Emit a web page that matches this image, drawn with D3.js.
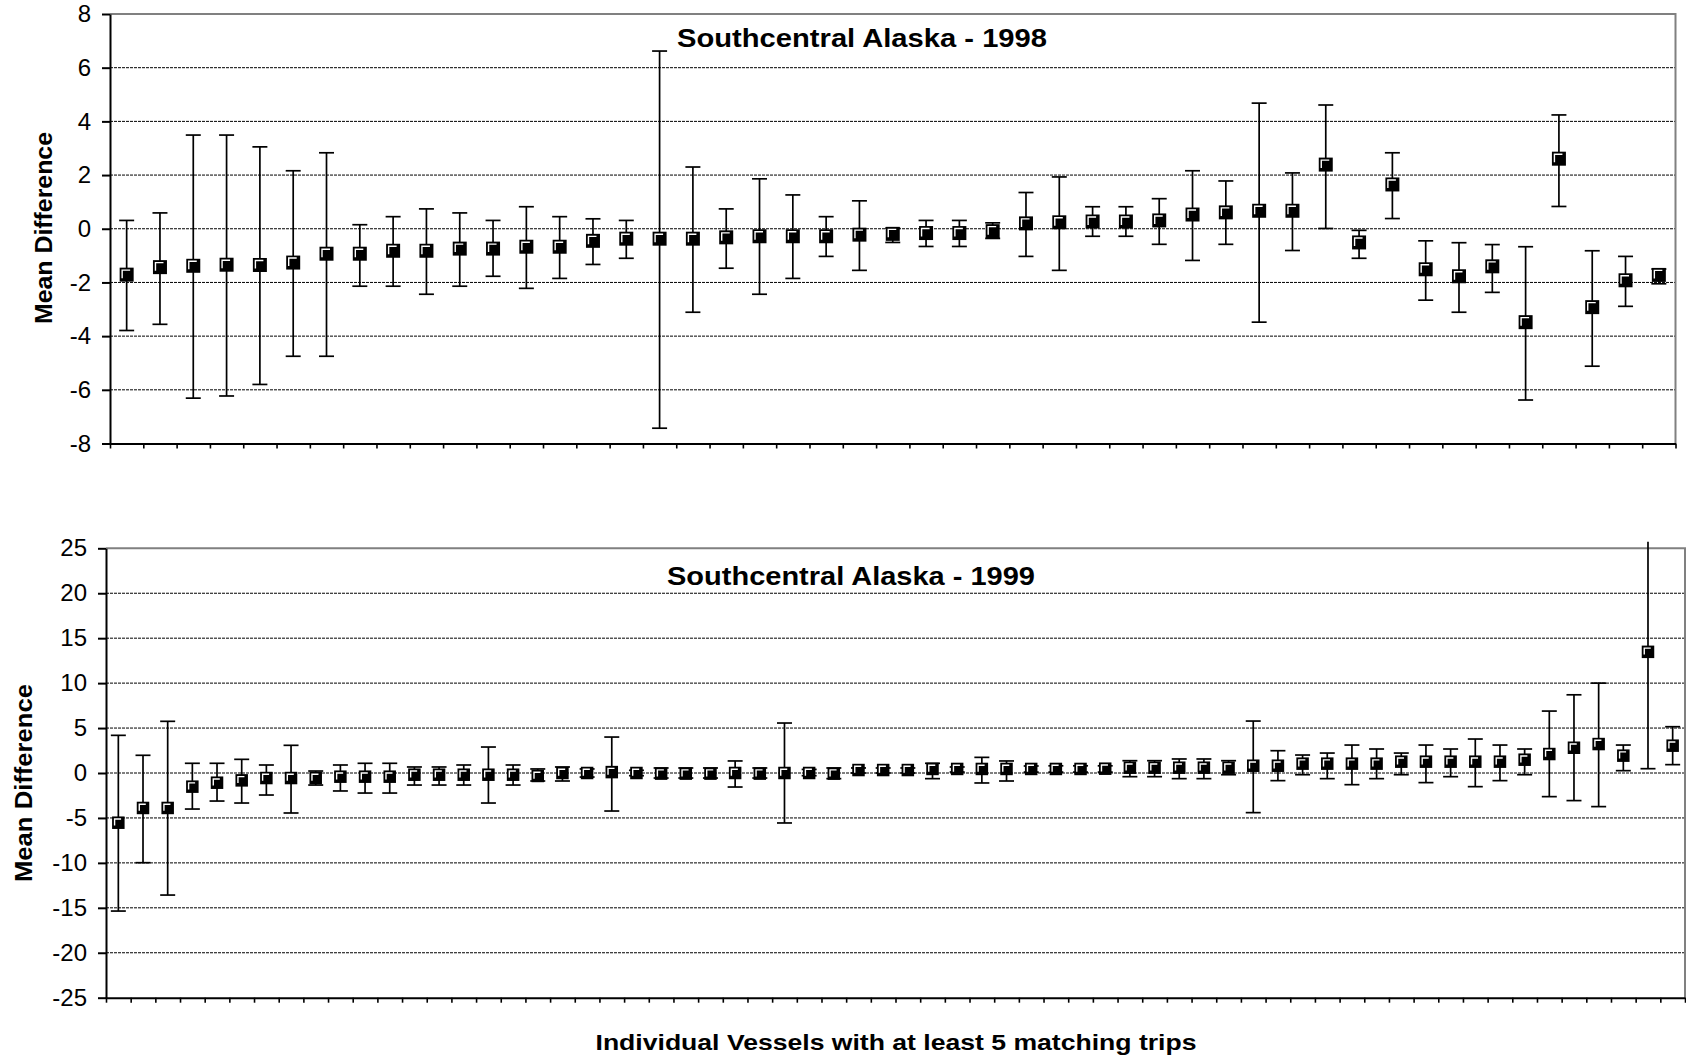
<!DOCTYPE html>
<html>
<head>
<meta charset="utf-8">
<script src="https://cdn.jsdelivr.net/npm/d3@7"></script>
<style>
  body { margin: 0; background: #fff; }
  text { font-family: "Liberation Sans", Arial, sans-serif; fill: #000; }
</style>
</head>
<body>
<svg id="chart" width="1686" height="1058"></svg>
<script>
// ---- 1998: vessels with at least 5 matching trips ----
const vessels98 = [1,2,3,4,5,6,7,8,9,10,11,12,13,14,15,16,17,18,19,20,21,22,23,24,25,26,27,28,29,30,
  31,32,33,34,35,36,37,38,39,40,41,42,43,44,45,46,47];
const mean98 = [-1.71,-1.43,-1.38,-1.34,-1.35,-1.26,-0.93,-0.93,-0.82,-0.82,-0.74,-0.74,-0.67,-0.67,-0.45,
  -0.37,-0.37,-0.37,-0.32,-0.28,-0.28,-0.28,-0.22,-0.19,-0.16,-0.16,-0.09,0.20,0.24,0.27,
  0.27,0.31,0.53,0.61,0.67,0.67,2.39,-0.51,1.65,-1.51,-1.77,-1.40,-3.48,2.61,-2.92,-1.92,-1.72];
const upper98 = [0.31,0.59,3.49,3.49,3.05,2.16,2.83,0.15,0.45,0.74,0.59,0.31,0.82,0.45,0.37,
  0.31,6.62,2.30,0.74,1.86,1.26,0.45,1.04,0.02,0.31,0.31,0.22,1.35,1.93,0.82,
  0.82,1.12,2.16,1.78,4.68,2.08,4.61,-0.06,2.83,-0.45,-0.52,-0.59,-0.67,4.24,-0.82,-1.03,-1.50];
const lower98 = [-3.79,-3.56,-6.31,-6.23,-5.80,-4.75,-4.75,-2.14,-2.14,-2.44,-2.14,-1.77,-2.22,-1.85,-1.33,
  -1.10,-7.43,-3.11,-1.47,-2.44,-1.85,-1.03,-1.55,-0.51,-0.66,-0.66,-0.36,-1.03,-1.55,-0.28,
  -0.28,-0.58,-1.18,-0.58,-3.48,-0.81,0.01,-1.10,0.38,-2.66,-3.11,-2.37,-6.38,0.83,-5.12,-2.89,-2.05];
const yTicks98 = [-8,-6,-4,-2,0,2,4,6,8];

// ---- 1999 ----
const vessels99 = [1,2,3,4,5,6,7,8,9,10,11,12,13,14,15,16,17,18,19,20,21,22,23,24,25,26,27,28,29,30,
  31,32,33,34,35,36,37,38,39,40,41,42,43,44,45,46,47,48,49,50,51,52,53,54,55,56,57,58,59,60,
  61,62,63,64];
const mean99 = [-5.53,-3.89,-3.89,-1.52,-1.08,-0.82,-0.56,-0.56,-0.56,-0.41,-0.41,-0.41,-0.19,-0.19,-0.19,
  -0.19,-0.19,-0.33,0.00,0.00,0.10,0.00,-0.07,-0.07,-0.07,0.00,-0.07,0.00,0.00,-0.07,
  0.33,0.33,0.33,0.45,0.45,0.45,0.45,0.45,0.45,0.45,0.48,0.59,0.59,0.59,0.59,
  0.59,0.81,0.81,1.04,1.04,1.04,1.04,1.26,1.26,1.26,1.26,1.26,1.48,2.11,2.81,
  3.22,1.93,13.48,3.04];
const upper99 = [4.19,1.97,5.75,1.08,1.08,1.52,0.89,3.08,0.22,0.89,1.08,1.08,0.67,0.67,0.89,
  2.89,0.89,0.45,0.67,0.45,4.00,0.30,0.56,0.56,0.56,1.34,0.56,5.56,0.40,0.56,
  0.56,0.56,0.56,1.08,0.67,1.74,1.34,0.78,0.80,0.80,0.80,1.37,1.37,1.56,1.56,
  1.37,5.78,2.48,2.00,2.22,3.11,2.67,2.22,3.11,2.67,3.78,3.11,2.67,6.89,8.70,
  10.00,3.11,25.73,5.15];
const lower99 = [-15.36,-9.98,-13.58,-4.01,-3.12,-3.34,-2.45,-4.45,-1.34,-2.00,-2.23,-2.23,-1.34,-1.34,-1.34,
  -3.34,-1.34,-0.89,-0.89,-0.45,-4.23,-0.30,-0.56,-0.56,-0.56,-1.56,-0.56,-5.56,-0.30,-0.63,
  0.00,0.00,0.00,-0.63,0.11,-1.11,-0.89,0.10,0.10,0.10,0.10,-0.41,-0.41,-0.63,-0.63,
  -0.19,-4.41,-0.85,-0.19,-0.63,-1.30,-0.63,-0.19,-1.07,-0.41,-1.52,-0.85,-0.19,-2.63,-3.07,
  -3.74,0.26,0.48,0.93];
const yTicks99 = [-25,-20,-15,-10,-5,0,5,10,15,20,25];

const svg = d3.select("#chart");
svg.append("rect").attr("width", 1686).attr("height", 1058).attr("fill", "#fff");

function drawPanel(p) {
  const g = svg.append("g");
  const x = d3.scaleBand().domain(p.ids).range([p.left, p.right]);
  const xEdge = d3.scaleLinear().domain([0, p.ids.length]).range([p.left, p.right]);
  const yMin = p.ticks[0], yMax = p.ticks[p.ticks.length - 1];
  const y = d3.scaleLinear().domain([yMin, yMax]).range([p.bottom, p.top]);

  // dashed horizontal gridlines
  g.append("g").selectAll("line").data(p.ticks.slice(1, -1)).join("line")
    .attr("x1", p.left).attr("x2", p.right)
    .attr("y1", d => y(d)).attr("y2", d => y(d))
    .attr("stroke", "#000").attr("stroke-width", 1).attr("stroke-dasharray", "3,1");

  // grey plot-area frame (top and right)
  g.append("path")
    .attr("d", `M${p.left},${y(yMax)}H${p.right}V${p.bottom}`)
    .attr("fill", "none").attr("stroke", "#808080").attr("stroke-width", 2);

  // title
  g.append("text")
    .attr("x", p.titleX).attr("y", p.titleY)
    .attr("text-anchor", "middle")
    .attr("font-size", 26).attr("font-weight", "bold")
    .attr("textLength", p.titleLen).attr("lengthAdjust", "spacingAndGlyphs")
    .text(p.title);

  // y-axis label
  g.append("text")
    .attr("transform", `translate(${p.ylabX},${p.ylabY}) rotate(-90)`)
    .attr("text-anchor", "middle").attr("dominant-baseline", "central")
    .attr("font-size", 23).attr("font-weight", "bold")
    .attr("textLength", p.ylabLen).attr("lengthAdjust", "spacingAndGlyphs")
    .text("Mean Difference");

  // error bars
  const rows = p.ids.map((id, i) => ({ id, m: p.mean[i], hi: p.upper[i], lo: p.lower[i] }));
  const cap = 7.5;
  const eb = g.append("g").attr("stroke", "#000").attr("stroke-width", 1.7);
  eb.selectAll("line.whisker").data(rows).join("line").attr("class", "whisker")
    .attr("x1", d => x(d.id) + x.bandwidth() / 2).attr("x2", d => x(d.id) + x.bandwidth() / 2)
    .attr("y1", d => y(d.hi)).attr("y2", d => y(d.lo));
  const caps = rows.flatMap(d => [d.hi, d.lo].filter(v => v <= yMax && v >= yMin).map(v => ({ id: d.id, v })));
  eb.selectAll("line.cap").data(caps).join("line").attr("class", "cap")
    .attr("x1", d => x(d.id) + x.bandwidth() / 2 - cap).attr("x2", d => x(d.id) + x.bandwidth() / 2 + cap)
    .attr("y1", d => y(d.v)).attr("y2", d => y(d.v));

  // square markers
  const s = p.marker, a = 2.5;
  const mk = g.append("g").selectAll("g").data(rows).join("g")
    .attr("transform", d => `translate(${x(d.id) + x.bandwidth() / 2},${y(d.m)})`);
  mk.append("rect").attr("x", -s / 2).attr("y", -s / 2).attr("width", s).attr("height", s).attr("fill", "#000");
  mk.append("path")
    .attr("d", `M${-s / 2 + a},${s / 2 - a - 1}V${-s / 2 + a}H${s / 2 - a - 1}`)
    .attr("fill", "none").attr("stroke", "#fff").attr("stroke-width", 1.4);

  // axes
  const ya = g.append("g").attr("transform", `translate(${p.left},0)`)
    .call(d3.axisLeft(y).tickValues(p.ticks).tickSize(8).tickSizeOuter(0).tickPadding(11).tickFormat(d => String(d)));
  ya.select(".domain").attr("stroke", "#000").attr("stroke-width", 2);
  ya.selectAll(".tick line").attr("stroke", "#000").attr("stroke-width", 2);
  ya.selectAll(".tick text").attr("font-size", 24).attr("font-family", "Liberation Sans, Arial, sans-serif");

  const xa = g.append("g").attr("transform", `translate(0,${p.bottom})`)
    .call(d3.axisBottom(xEdge).tickValues(d3.range(p.ids.length + 1)).tickSize(5).tickSizeOuter(0).tickFormat(""));
  xa.select(".domain").attr("stroke", "#000").attr("stroke-width", 2);
  xa.selectAll(".tick line").attr("stroke", "#000").attr("stroke-width", 1.6);
}

drawPanel({
  ids: vessels98, mean: mean98, upper: upper98, lower: lower98, ticks: yTicks98,
  left: 110, right: 1675.5, top: 14, bottom: 443.5,
  title: "Southcentral Alaska - 1998", titleX: 862, titleY: 47, titleLen: 370,
  ylabX: 44, ylabY: 228, ylabLen: 192, marker: 14
});

drawPanel({
  ids: vessels99, mean: mean99, upper: upper99, lower: lower99, ticks: yTicks99,
  left: 106, right: 1685, top: 548.3, bottom: 997.7,
  title: "Southcentral Alaska - 1999", titleX: 851, titleY: 585, titleLen: 368,
  ylabX: 23.5, ylabY: 783, ylabLen: 198, marker: 12.5
});

// shared category-axis title
svg.append("text")
  .attr("x", 896).attr("y", 1050)
  .attr("text-anchor", "middle")
  .attr("font-size", 22).attr("font-weight", "bold")
  .attr("textLength", 601).attr("lengthAdjust", "spacingAndGlyphs")
  .text("Individual Vessels with at least 5 matching trips");
</script>
</body>
</html>
